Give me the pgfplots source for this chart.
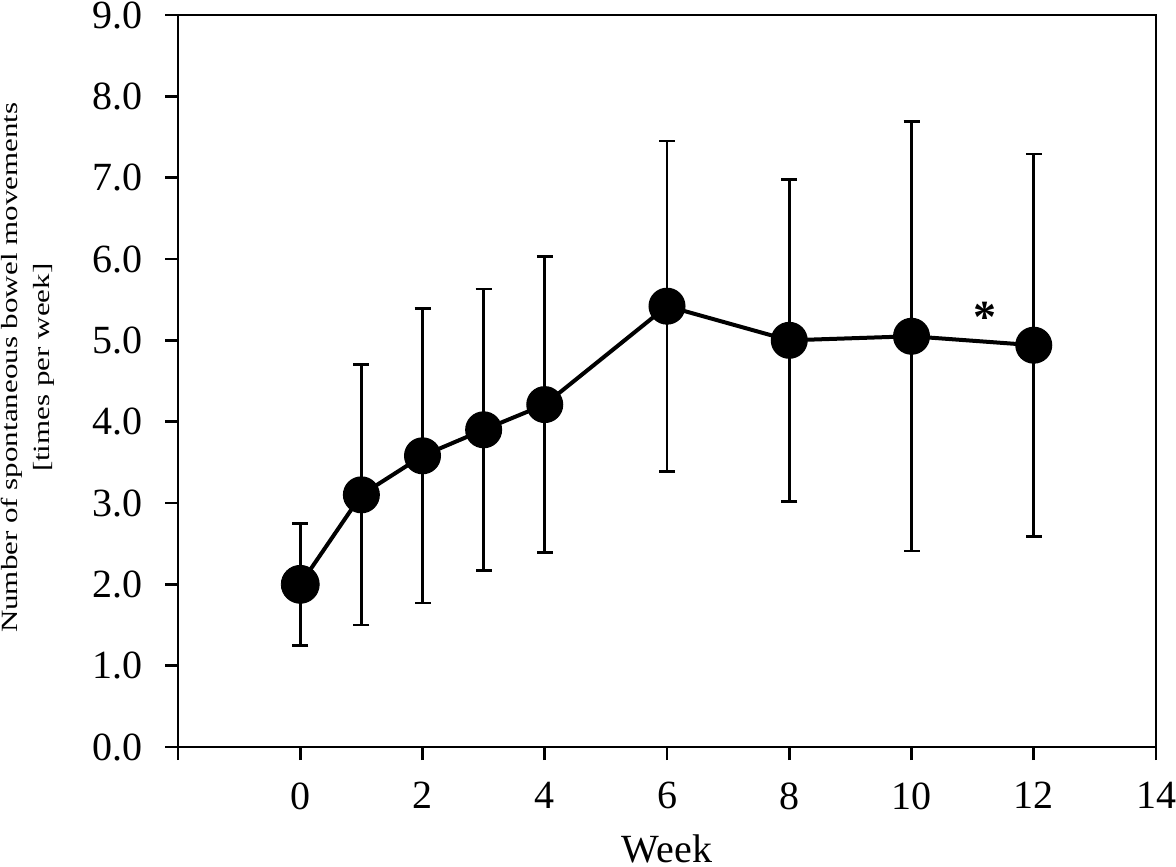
\documentclass[border=0pt]{standalone}
\usepackage{fontspec}
\setmainfont{Liberation Serif}
\usepackage{graphicx}
\usepackage{pgfplots}
\pgfplotsset{compat=1.18}
\usepackage{pgfplotstable}
\pgfplotstableread{
week mean sd
0 2.00 0.75
1 3.10 1.60
2 3.58 1.81
3 3.90 1.73
4 4.21 1.82
6 5.42 2.03
8 5.00 1.98
10 5.05 2.64
12 4.94 2.35
}\datatable
\begin{document}
\begin{tikzpicture}
\begin{axis}[
  name=ax,
  scale only axis, width=489pt, height=366pt,
  xmin=-2, xmax=14, ymin=0, ymax=9,
  xtick={-2,0,2,4,6,8,10,12,14},
  xticklabels={,0,2,4,6,8,10,12,14},
  ytick={0,1,2,3,4,5,6,7,8,9},
  yticklabel style={/pgf/number format/fixed, /pgf/number format/fixed zerofill, /pgf/number format/precision=1},
  /pgf/number format/assume math mode=true,
  tick align=outside, xtick pos=left, ytick pos=left,
  major tick length=6.5pt,
  axis line style={line width=1.4pt, black},
  every tick/.style={black, line width=1.4pt},
  tick label style={font=\fontsize{20}{22}\selectfont, black, inner sep=0pt},
  xticklabel shift=11pt, yticklabel shift=11pt,
  xlabel={Week},
  xlabel style={font=\fontsize{20}{22}\selectfont, at={(rel axis cs:0.5,0)}, anchor=base, yshift=-57.5pt, inner sep=0pt},
  clip=false,
]
\addplot[black, line width=2pt, mark=*, mark size=8.25pt,
  error bars/.cd, y dir=both, y explicit,
  error bar style={line width=1.3pt, black},
  error mark options={rotate=90, black, line width=1.3pt, mark size=4pt}]
  table[x=week, y=mean, y error=sd] {\datatable};
\addplot[black, only marks, mark=*, mark size=9.5pt] coordinates {(0,2.00)};
\node[font=\fontsize{23}{23}\selectfont\bfseries, anchor=base, inner sep=0pt, yshift=-10.9pt] at (axis cs:11.21,5.37) {*};
\node[rotate=90, anchor=south, inner sep=0pt] at ([xshift=-59.5pt]rel axis cs:0,0.518)
  {\scalebox{1}[0.75]{\fontsize{15.5}{21}\selectfont\begin{tabular}{@{}c@{}}Number of spontaneous bowel movements\\ {[}times per week{]}\end{tabular}}};
\end{axis}
\pgfresetboundingbox
\useasboundingbox ([shift={(-89pt,-59.5pt)}]ax.south west) rectangle ([shift={(10pt,7.5pt)}]ax.north east);
\end{tikzpicture}
\end{document}
